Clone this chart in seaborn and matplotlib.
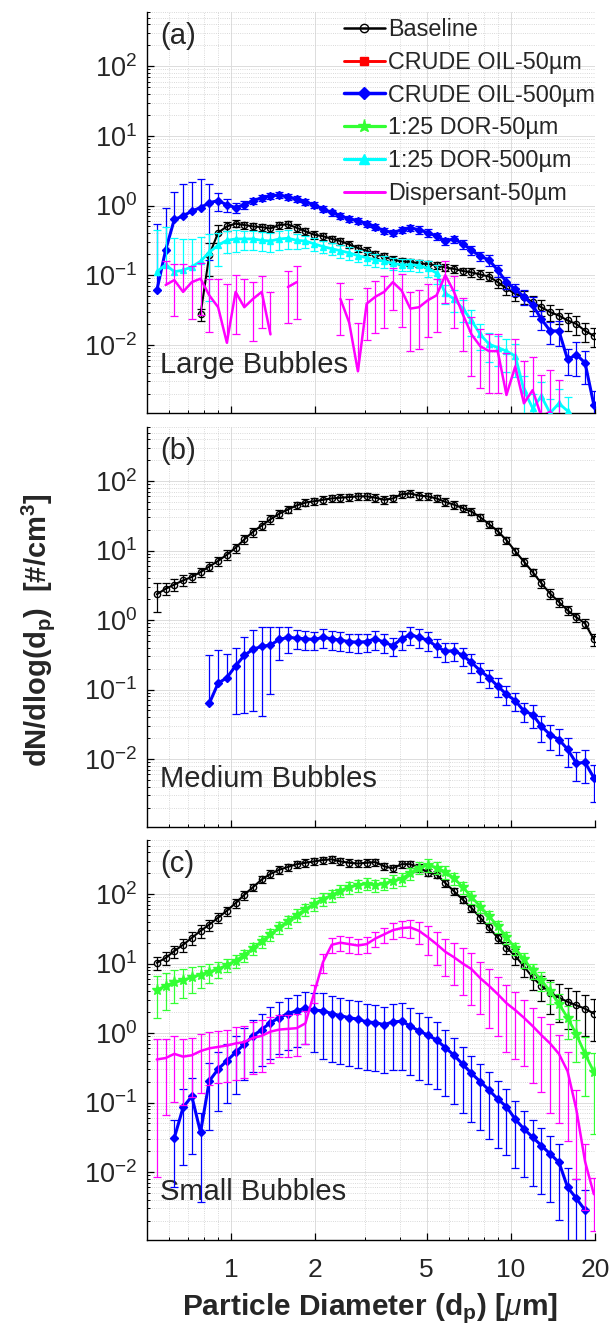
import numpy as np
import pandas as pd
import matplotlib
matplotlib.use("Agg")
import matplotlib.pyplot as plt
import seaborn as sns
from matplotlib.lines import Line2D
from matplotlib.ticker import LogLocator, NullFormatter

sns.set_theme(style="white")
plt.rcParams["font.family"] = ["Liberation Sans", "DejaVu Sans"]
plt.rcParams["mathtext.fontset"] = "custom"
plt.rcParams["mathtext.rm"] = "Liberation Sans"
plt.rcParams["mathtext.it"] = "Liberation Sans:italic"
plt.rcParams["mathtext.bf"] = "Liberation Sans:bold"

nan = np.nan

# ---------------- data ----------------
diam_um = [0.542, 0.583, 0.626, 0.673, 0.723, 0.777, 0.835, 0.898, 0.965, 1.037,
           1.114, 1.197, 1.286, 1.382, 1.486, 1.596, 1.715, 1.843, 1.981, 2.129,
           2.288, 2.458, 2.642, 2.839, 3.051, 3.278, 3.523, 3.786, 4.068, 4.371,
           4.698, 5.048, 5.425, 5.829, 6.264, 6.732, 7.234, 7.774, 8.354, 8.977,
           9.647, 10.37, 11.14, 11.97, 12.86, 13.82, 14.86, 15.96, 17.15, 18.43, 19.81]

# values are log10(dN/dlog dp); *_err = error / value
# Panel (a) Large bubbles
base_a_log = [nan, nan, nan, nan, nan, -1.56, -0.71, -0.39, -0.30, -0.26,
              -0.28, -0.30, -0.31, -0.33, -0.28, -0.27, -0.32, -0.37, -0.42, -0.44,
              -0.48, -0.51, -0.56, -0.61, -0.65, -0.70, -0.73, -0.78, -0.80, -0.81,
              -0.83, -0.84, -0.86, -0.89, -0.91, -0.94, -0.96, -0.99, -1.02, -1.10,
              -1.19, -1.27, -1.31, -1.39, -1.46, -1.53, -1.58, -1.65, -1.70, -1.80, -1.87]
base_a_err = [0, 0, 0, 0, 0, 0.2, 0.5, 0.3, 0.15, 0.12,
              0.12, 0.12, 0.12, 0.12, 0.12, 0.12, 0.12, 0.12, 0.12, 0.12,
              0.12, 0.12, 0.12, 0.12, 0.12, 0.12, 0.12, 0.12, 0.12, 0.12,
              0.12, 0.12, 0.12, 0.12, 0.12, 0.12, 0.15, 0.15, 0.15, 0.18,
              0.2, 0.2, 0.22, 0.25, 0.25, 0.25, 0.25, 0.3, 0.3, 0.3, 0.3]
blue_a_log = [-1.22, -0.64, -0.20, -0.15, -0.08, -0.03, 0.04, 0.07, 0.01, -0.03,
              0.01, 0.07, 0.11, 0.14, 0.15, 0.12, 0.09, 0.05, 0.01, -0.05,
              -0.10, -0.15, -0.19, -0.22, -0.26, -0.31, -0.36, -0.39, -0.35, -0.32,
              -0.35, -0.39, -0.44, -0.51, -0.48, -0.55, -0.64, -0.73, -0.78, -0.93,
              -1.10, -1.20, -1.31, -1.43, -1.63, -1.80, -1.80, -2.21, -2.14, -2.26, -2.86]
blue_a_err = [8.0, 3.0, 1.5, 1.9, 1.6, 1.6, 0.85, 0.3, 0.2, 0.15,
              0.12, 0.1, 0.1, 0.1, 0.1, 0.1, 0.1, 0.1, 0.1, 0.1,
              0.1, 0.1, 0.1, 0.1, 0.1, 0.1, 0.1, 0.1, 0.1, 0.1,
              0.12, 0.12, 0.12, 0.12, 0.12, 0.15, 0.15, 0.15, 0.18, 0.2,
              0.2, 0.2, 0.25, 0.3, 0.3, 0.35, 0.4, 0.4, 0.5, 0.5, 0.6]
cyan_a_log = [-0.95, -0.85, -0.95, -0.93, -0.88, -0.80, -0.67, -0.57, -0.50, -0.48,
              -0.48, -0.48, -0.50, -0.51, -0.48, -0.47, -0.50, -0.51, -0.55, -0.59,
              -0.62, -0.65, -0.68, -0.72, -0.75, -0.78, -0.80, -0.83, -0.85, -0.85,
              -0.86, -0.90, -0.97, -1.26, -1.34, -1.48, -1.65, -1.85, -1.99, -2.04,
              -2.09, -2.16, -2.65, -2.91, -2.74, -2.98, -2.84, -2.95, nan, nan, nan]
cyan_a_err = [3.0, 2.5, 2.0, 1.8, 1.5, 1.2, 0.8, 0.5, 0.35, 0.35,
              0.3, 0.3, 0.3, 0.3, 0.3, 0.3, 0.25, 0.2, 0.2, 0.2,
              0.2, 0.2, 0.2, 0.2, 0.2, 0.2, 0.2, 0.2, 0.2, 0.2,
              0.2, 0.25, 0.3, 0.3, 0.35, 0.35, 0.4, 0.4, 0.45, 0.45,
              0.5, 0.5, 0.6, 0.6, 0.6, 0.6, 0.6, 0.6, 0, 0, 0]
mag_a_log = [nan, -1.14, -1.07, -1.24, -1.10, -1.05, -1.29, -1.46, -1.97, -1.24,
             -1.46, -1.34, -1.24, -1.85, nan, -1.17, -1.10, nan, nan, nan,
             nan, -1.34, -1.68, -2.38, -1.41, -1.31, -1.24, -1.10, -1.22, -1.48,
             -1.46, -1.36, -1.29, -1.00, -1.24, -1.56, -1.85, -2.02, -2.09, -2.09,
             -2.72, -2.31, -2.84, -2.65, -3.03, -2.96, -3.10, nan, nan, nan, nan]
mag_a_err = [0, 1.2, 0.7, 1.5, 0.7, 0.7, 0.7, 1.5, 6.0, 0.75,
             1.5, 0.75, 0.7, 3.0, 0, 0.7, 0.7, 0, 0, 0,
             0, 0.7, 1.2, 4.0, 0.7, 0.7, 0.7, 0.6, 0.7, 0.75,
             0.75, 0.7, 0.7, 0.6, 0.7, 0.7, 0.75, 0.75, 0.75, 0.75,
             3.0, 1.5, 3.0, 2.0, 3.0, 3.0, 3.0, 0, 0, 0, 0]

# Panel (b) Medium bubbles
base_b_log = [0.37, 0.45, 0.51, 0.57, 0.62, 0.69, 0.77, 0.85, 0.94, 1.04,
              1.16, 1.27, 1.36, 1.45, 1.53, 1.59, 1.65, 1.69, 1.71, 1.73,
              1.75, 1.76, 1.77, 1.78, 1.78, 1.76, 1.73, 1.75, 1.81, 1.82,
              1.79, 1.78, 1.75, 1.70, 1.66, 1.61, 1.56, 1.48, 1.38, 1.28,
              1.15, 0.99, 0.84, 0.69, 0.53, 0.38, 0.26, 0.14, 0.04, -0.05, -0.28]
base_b_err = [0.45, 0.2, 0.2, 0.18, 0.15, 0.15, 0.15, 0.15, 0.15, 0.15,
              0.15, 0.15, 0.15, 0.15, 0.12, 0.12, 0.12, 0.12, 0.12, 0.12,
              0.12, 0.12, 0.12, 0.12, 0.12, 0.12, 0.12, 0.12, 0.12, 0.12,
              0.12, 0.12, 0.12, 0.12, 0.12, 0.12, 0.12, 0.12, 0.12, 0.12,
              0.12, 0.12, 0.12, 0.12, 0.15, 0.15, 0.15, 0.15, 0.15, 0.15, 0.2]
blue_b_log = [nan, nan, nan, nan, nan, nan, -1.20, -0.91, -0.83, -0.66,
              -0.51, -0.42, -0.38, -0.36, -0.28, -0.25, -0.26, -0.27, -0.28, -0.25,
              -0.27, -0.29, -0.31, -0.32, -0.31, -0.27, -0.32, -0.37, -0.27, -0.21,
              -0.25, -0.29, -0.38, -0.45, -0.44, -0.51, -0.61, -0.73, -0.83, -0.95,
              -1.07, -1.16, -1.31, -1.36, -1.53, -1.65, -1.72, -1.86, -2.06, -2.05, -2.27]
blue_b_err = [0, 0, 0, 0, 0, 0, 3.9, 2.0, 1.2, 0.8,
              0.85, 0.87, 0.9, 0.8, 0.5, 0.4, 0.3, 0.3, 0.3, 0.3,
              0.3, 0.3, 0.3, 0.3, 0.3, 0.3, 0.3, 0.3, 0.3, 0.3,
              0.3, 0.3, 0.3, 0.3, 0.3, 0.3, 0.3, 0.3, 0.3, 0.3,
              0.3, 0.3, 0.3, 0.35, 0.4, 0.4, 0.4, 0.45, 0.45, 0.5, 0.55]

# Panel (c) Small bubbles
base_c_log = [1.01, 1.08, 1.18, 1.27, 1.37, 1.47, 1.56, 1.66, 1.76, 1.87,
              1.99, 2.10, 2.21, 2.29, 2.35, 2.39, 2.43, 2.45, 2.47, 2.49,
              2.50, 2.47, 2.45, 2.44, 2.45, 2.46, 2.40, 2.37, 2.43, 2.43,
              2.38, 2.31, 2.28, 2.16, 2.04, 1.92, 1.80, 1.66, 1.52, 1.37,
              1.23, 1.11, 0.96, 0.80, 0.68, 0.58, 0.51, 0.45, 0.40, 0.35, 0.28]
base_c_err = [0.2, 0.2, 0.2, 0.2, 0.2, 0.2, 0.18, 0.15, 0.15, 0.15,
              0.15, 0.12, 0.12, 0.12, 0.12, 0.12, 0.12, 0.12, 0.12, 0.12,
              0.12, 0.12, 0.12, 0.12, 0.12, 0.12, 0.12, 0.12, 0.12, 0.12,
              0.12, 0.12, 0.12, 0.12, 0.12, 0.12, 0.12, 0.15, 0.15, 0.15,
              0.2, 0.25, 0.3, 0.35, 0.4, 0.5, 0.55, 0.6, 0.6, 0.6, 0.6]
green_c_log = [0.62, 0.68, 0.73, 0.76, 0.80, 0.84, 0.88, 0.92, 0.98, 1.04,
               1.12, 1.22, 1.32, 1.42, 1.52, 1.61, 1.70, 1.78, 1.86, 1.93,
               1.98, 2.05, 2.10, 2.13, 2.15, 2.13, 2.15, 2.19, 2.22, 2.30,
               2.38, 2.42, 2.38, 2.32, 2.23, 2.10, 1.96, 1.82, 1.68, 1.54,
               1.38, 1.22, 1.06, 0.90, 0.76, 0.60, 0.42, 0.22, -0.02, -0.30, -0.56]
green_c_err = [0.6, 0.55, 0.5, 0.45, 0.4, 0.35, 0.3, 0.25, 0.2, 0.2,
               0.2, 0.2, 0.2, 0.2, 0.2, 0.2, 0.2, 0.2, 0.2, 0.2,
               0.2, 0.2, 0.2, 0.2, 0.2, 0.2, 0.2, 0.2, 0.2, 0.2,
               0.2, 0.2, 0.2, 0.2, 0.2, 0.2, 0.2, 0.2, 0.2, 0.2,
               0.2, 0.2, 0.25, 0.25, 0.3, 0.35, 0.4, 0.5, 0.6, 0.75, 0.87]
mag_c_log = [-0.38, -0.36, -0.30, -0.34, -0.32, -0.26, -0.22, -0.20, -0.18, -0.15,
             -0.13, -0.07, -0.04, 0.02, 0.05, 0.06, 0.07, 0.14, 0.58, 1.02,
             1.27, 1.30, 1.28, 1.26, 1.28, 1.36, 1.42, 1.48, 1.51, 1.52,
             1.47, 1.38, 1.28, 1.17, 1.09, 1.00, 0.92, 0.79, 0.68, 0.56,
             0.43, 0.33, 0.22, 0.10, -0.03, -0.15, -0.30, -0.55, -1.10, -1.85, -2.32]
mag_c_err = [0.98, 0.85, 0.8, 0.8, 0.75, 0.75, 0.7, 0.7, 0.7, 0.7,
             0.7, 0.7, 0.7, 0.65, 0.6, 0.6, 0.6, 0.5, 0.3, 0.3,
             0.25, 0.25, 0.25, 0.25, 0.25, 0.25, 0.25, 0.25, 0.25, 0.3,
             0.35, 0.45, 0.5, 0.55, 0.6, 0.65, 0.7, 0.7, 0.75, 0.75,
             0.8, 0.8, 0.8, 0.85, 0.85, 0.9, 0.9, 0.9, 0.9, 0.8, 0.7]
blue_c_log = [nan, nan, -1.51, -1.07, -0.91, -1.43, -0.69, -0.52, -0.40, -0.28,
              -0.16, -0.04, 0.05, 0.15, 0.22, 0.28, 0.32, 0.36, 0.33, 0.32,
              0.28, 0.25, 0.22, 0.20, 0.16, 0.15, 0.12, 0.16, 0.17, 0.10,
              0.03, -0.03, -0.10, -0.21, -0.32, -0.45, -0.58, -0.70, -0.82, -0.95,
              -1.06, -1.24, -1.38, -1.50, -1.62, -1.74, -1.86, -2.22, -2.38, -2.55, nan]
blue_c_err = [0, 0, 0.8, 0.85, 0.85, 0.9, 0.8, 0.75, 0.75, 0.75,
              0.7, 0.7, 0.7, 0.7, 0.7, 0.7, 0.7, 0.7, 0.75, 0.8,
              0.8, 0.8, 0.8, 0.8, 0.8, 0.8, 0.8, 0.8, 0.8, 0.8,
              0.8, 0.8, 0.8, 0.8, 0.8, 0.8, 0.8, 0.8, 0.8, 0.8,
              0.8, 0.8, 0.8, 0.8, 0.8, 0.8, 0.85, 0.9, 0.9, 0.95, 0]

legend_labels = ["Baseline", "CRUDE OIL-50\u00b5m", "CRUDE OIL-500\u00b5m",
                 "1:25 DOR-50\u00b5m", "1:25 DOR-500\u00b5m", "Dispersant-50\u00b5m"]
panel_tags = ["(a)", "(b)", "(c)"]
panel_names = ["Large Bubbles", "Medium Bubbles", "Small Bubbles"]
xtick_vals = [1, 2, 5, 10, 20]
ytick_vals = [1e-2, 1e-1, 1e0, 1e1, 1e2]
ytick_text = [r"$10^{-2}$", r"$10^{-1}$", r"$10^{0}$", r"$10^{1}$", r"$10^{2}$"]

# ---------------- styles ----------------
STY = {
    "base":  dict(color="black", marker="o", ms=4.5, mfc="none", mew=1.0, lw=1.5),
    "red":   dict(color="#ff0000", marker="s", ms=4.5, mfc="#ff0000", mew=1.0, lw=1.8),
    "blue":  dict(color="#0000ff", marker="D", ms=4.5, mfc="#0000ff", mew=1.0, lw=2.2),
    "green": dict(color="#33ff33", marker="*", ms=8, mfc="#33ff33", mew=1.0, lw=2.0),
    "cyan":  dict(color="#00ffff", marker="^", ms=5, mfc="#00ffff", mew=1.0, lw=2.0),
    "mag":   dict(color="#ff00ff", marker=None, ms=0, mfc="none", mew=0, lw=1.8),
}

panels = [
    [("base", base_a_log, base_a_err), ("blue", blue_a_log, blue_a_err),
     ("cyan", cyan_a_log, cyan_a_err), ("mag", mag_a_log, mag_a_err)],
    [("base", base_b_log, base_b_err), ("blue", blue_b_log, blue_b_err)],
    [("base", base_c_log, base_c_err), ("blue", blue_c_log, blue_c_err),
     ("green", green_c_log, green_c_err), ("mag", mag_c_log, mag_c_err)],
]
draw_order = {"base": 1, "red": 2, "blue": 3, "green": 4, "cyan": 5, "mag": 6}

W, H = 613, 1342
fig = plt.figure(figsize=(W / 100, H / 100), dpi=100)
axes_px = [(147, 12, 595, 413), (147, 427, 595, 827), (147, 840, 595, 1240)]
TXT = "#262626"


def draw_series(ax, key, logv, rel):
    s = STY[key]
    x = np.array(diam_um, float)
    y = 10.0 ** np.array(logv, float)
    r = np.array(rel, float)
    ok = ~np.isnan(y)
    e = r * y
    z = 2 + draw_order[key]
    both = ok & (r > 0) & (r < 1)
    up = ok & (r >= 1)
    if both.any():
        ax.errorbar(x[both], y[both], yerr=e[both], fmt="none", ecolor=s["color"],
                    elinewidth=0.9, capsize=3, capthick=0.9, zorder=z)
    if up.any():
        cont = ax.errorbar(x[up], y[up], yerr=[np.zeros(up.sum()), e[up]], fmt="none",
                           ecolor=s["color"], elinewidth=0.9, capsize=3, capthick=0.9, zorder=z)
        caps = cont[1]
        if len(caps) == 2:
            caps[0].set_visible(False)
    seg = np.cumsum(~ok)
    df = pd.DataFrame({"d": x[ok], "v": y[ok], "seg": seg[ok]})
    kw = dict(color=s["color"], linewidth=s["lw"])
    if s["marker"]:
        kw.update(marker=s["marker"], markersize=s["ms"], markerfacecolor=s["mfc"],
                  markeredgecolor=s["color"], markeredgewidth=s["mew"])
    sns.lineplot(data=df, x="d", y="v", units="seg", estimator=None, sort=False,
                 ax=ax, legend=False, zorder=z + 0.5, **kw)


axs = []
for i, (l, t, r, b) in enumerate(axes_px):
    ax = fig.add_axes([l / W, 1 - b / H, (r - l) / W, (b - t) / H])
    ax.set_xscale("log")
    ax.set_yscale("log")
    for key, lv, er in panels[i]:
        draw_series(ax, key, lv, er)
    ax.set_xlabel("")
    ax.set_ylabel("")
    ax.set_xticks(xtick_vals)
    ax.xaxis.set_minor_locator(LogLocator(base=10, subs=np.arange(2, 10), numticks=50))
    ax.xaxis.set_minor_formatter(NullFormatter())
    if i == 2:
        ax.set_xticklabels([str(v) for v in xtick_vals])
    else:
        ax.set_xticklabels([])
    ax.set_yticks(ytick_vals)
    ax.set_yticklabels(ytick_text)
    ax.yaxis.set_minor_locator(LogLocator(base=10, subs=np.arange(2, 10), numticks=50))
    ax.yaxis.set_minor_formatter(NullFormatter())
    ax.set_xlim(0.5, 20)
    ax.set_ylim(1.05e-3, 600)
    ax.grid(True, which="major", linestyle="-", color="#dcdcdc", linewidth=0.7)
    ax.grid(True, which="minor", linestyle=":", color="#cdcdcd", linewidth=0.6)
    ax.set_axisbelow(True)
    for sp in ["top", "right"]:
        ax.spines[sp].set_visible(False)
    for sp in ["left", "bottom"]:
        ax.spines[sp].set_color("black")
        ax.spines[sp].set_linewidth(1.0)
    ax.tick_params(which="both", direction="in", top=False, right=False,
                   left=True, bottom=True, colors="black", labelcolor=TXT)
    ax.tick_params(which="major", length=5, width=0.9)
    ax.tick_params(which="minor", length=2.5, width=0.7)
    ax.tick_params(axis="y", which="major", labelsize=19.5, pad=7)
    ax.tick_params(axis="x", which="major", labelsize=19, pad=13)
    ax.text(0.03, 0.94, panel_tags[i], transform=ax.transAxes, fontsize=21,
            color=TXT, ha="left", va="center")
    ax.text(0.03, 0.12, panel_names[i], transform=ax.transAxes, fontsize=21,
            color=TXT, ha="left", va="center")
    axs.append(ax)

# legend (panel a)
handles = []
for key in ["base", "red", "blue", "green", "cyan", "mag"]:
    s = STY[key]
    if s["marker"]:
        handles.append(Line2D([], [], color=s["color"], lw=s["lw"] + 0.3, marker=s["marker"],
                              markersize=s["ms"] + 1.5, markerfacecolor=s["mfc"],
                              markeredgecolor=s["color"], markeredgewidth=s["mew"]))
    else:
        handles.append(Line2D([], [], color=s["color"], lw=s["lw"] + 0.3))
axs[0].legend(handles, legend_labels, loc="upper left", bbox_to_anchor=(344 / W, 1 - 18 / H),
              bbox_transform=fig.transFigure, frameon=False, fontsize=16.8,
              handlelength=1.75, handletextpad=0.12, labelspacing=0.42,
              borderpad=0, borderaxespad=0, labelcolor=TXT)

fig.text(38 / W, 1 - 630 / H, r"dN/dlog(d$_\mathbf{p}$)  [#/cm$^\mathbf{3}$]",
         rotation=90, fontsize=21, fontweight="bold", color=TXT, ha="center", va="center")
fig.text(370 / W, 1 - 1315 / H, r"Particle Diameter (d$_\mathbf{p}$) [$\mu$m]",
         fontsize=21.5, fontweight="bold", color=TXT, ha="center", va="baseline")

fig.savefig("out.png", dpi=100)
